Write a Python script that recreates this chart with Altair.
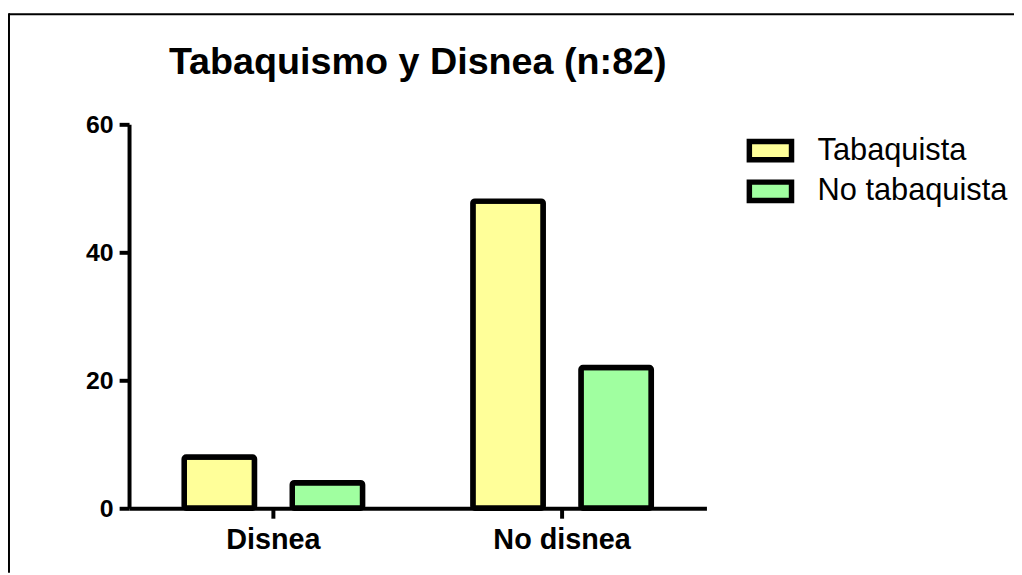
import altair as alt
import pandas as pd

categories = ["Disnea", "Disnea", "No disnea", "No disnea"]
groups = ["Tabaquista", "No tabaquista", "Tabaquista", "No tabaquista"]
values = [8, 4, 48, 22]
category_order = ["Disnea", "No disnea"]
series = ["Tabaquista", "No tabaquista"]
colors = ["#FFFF99", "#A0FFA0"]
y_ticks = [0, 20, 40, 60]
title_text = "Tabaquismo y Disnea (n:82)"

df = pd.DataFrame({"cat": categories, "grp": groups, "val": values})
FONT = "Liberation Sans"

bars = alt.Chart(df).mark_bar(
    stroke="black", strokeWidth=5.5, cornerRadius=2, strokeJoin="round"
).encode(
    x=alt.X(
        "cat:N", sort=category_order,
        scale=alt.Scale(paddingInner=0, paddingOuter=0),
        axis=alt.Axis(
            title=None, labelAngle=0, labelFont=FONT, labelFontSize=29,
            labelFontWeight="bold", labelColor="black", domainColor="black",
            domainWidth=4, tickColor="black", tickWidth=4, tickSize=10,
            labelPadding=8,
        ),
    ),
    xOffset=alt.XOffset(
        "grp:N", sort=series,
        scale=alt.Scale(domain=series, paddingInner=0.349, paddingOuter=0.51),
    ),
    y=alt.Y(
        "val:Q",
        scale=alt.Scale(domain=[0, 60], nice=False),
        axis=alt.Axis(
            values=y_ticks, title=None, grid=False, labelFont=FONT,
            labelFontSize=25, labelFontWeight="bold", labelColor="black",
            domainColor="black", domainWidth=4, tickColor="black",
            tickWidth=4, tickSize=10, labelPadding=6,
        ),
    ),
    color=alt.Color(
        "grp:N", sort=series,
        scale=alt.Scale(domain=series, range=colors),
        legend=alt.Legend(
            title=None, orient="none", legendX=631, legendY=11,
            labelFont=FONT, labelFontSize=31, labelColor="black",
            labelLimit=0,
            symbolType="M-2.1,-0.914H2.1V0.914H-2.1Z", symbolSize=410,
            symbolStrokeColor="black", symbolStrokeWidth=5.5,
            symbolOpacity=1, labelOffset=32, rowPadding=0, padding=0,
        ),
    ),
)

one = pd.DataFrame({"a": [0]})
frame_top = alt.Chart(one).mark_rule(color="black", strokeWidth=2).encode(
    x=alt.value(-121), x2=alt.value(892), y=alt.value(-111)
)
frame_left = alt.Chart(one).mark_rule(color="black", strokeWidth=2).encode(
    x=alt.value(-121), y=alt.value(-112), y2=alt.value(452)
)

chart = alt.layer(bars, frame_top, frame_left).properties(
    width=582, height=387,
    padding={"left": 122, "top": 115, "right": 310, "bottom": 65},
    autosize=alt.AutoSizeParams(type="none"),
    title=alt.TitleParams(
        title_text, font=FONT, fontSize=38, fontWeight="bold",
        anchor="middle", color="black", offset=0, baseline="alphabetic",
        dy=100,
    ),
).configure_view(stroke=None)

chart.save("out.html", embed_options={"renderer": "svg", "actions": False})
